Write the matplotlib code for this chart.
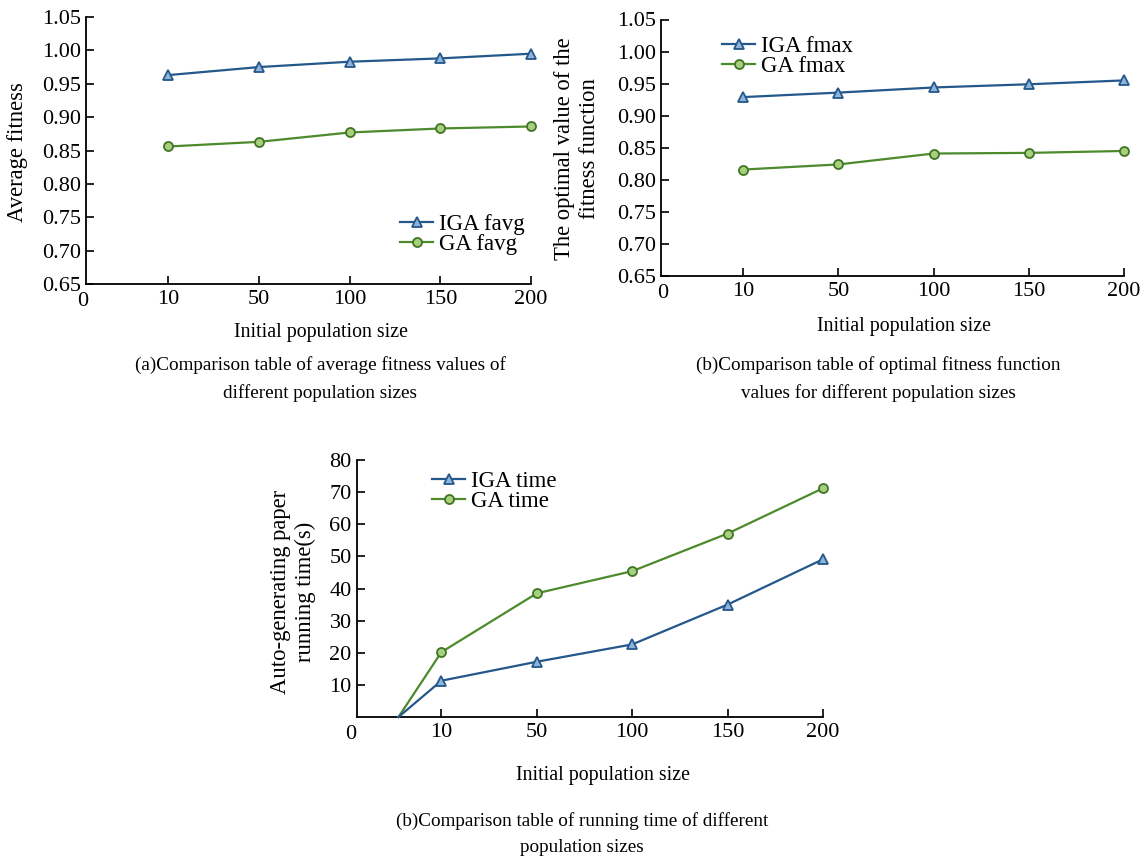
import matplotlib
matplotlib.use("Agg")
import matplotlib.pyplot as plt

plt.rcParams['font.family'] = ['Liberation Serif', 'DejaVu Serif']

# ---- data ----
x_labels = ["10", "50", "100", "150", "200"]
x_pos = [1, 2, 3, 4, 5]

iga_favg = [0.963, 0.975, 0.983, 0.988, 0.995]
ga_favg = [0.856, 0.863, 0.877, 0.883, 0.886]

iga_fmax = [0.929, 0.936, 0.944, 0.949, 0.955]
ga_fmax = [0.816, 0.824, 0.841, 0.842, 0.845]

x_time = [0.55, 1, 2, 3, 4, 5]
iga_time = [0, 11.3, 17.2, 22.6, 35.0, 49.1]
ga_time = [0, 20.2, 38.5, 45.4, 57.1, 71.2]

fit_ticks = [0.65, 0.70, 0.75, 0.80, 0.85, 0.90, 0.95, 1.00, 1.05]
time_ticks = [10, 20, 30, 40, 50, 60, 70, 80]

BLUE = '#24578a'
BLUE_FACE = '#8fb4dc'
GREEN = '#4c8a2c'
GREEN_FACE = '#a6cf7e'
TICK_FS = 16
LAB_FS = 16.3
XLAB_FS = 14.3
LEG_FS = 16.5
CAP_FS = 13.8

W, H = 1146, 861
fig = plt.figure(figsize=(W / 100, H / 100), dpi=100)


def make_axes(l, r, t, b):
    return fig.add_axes([l / W, 1 - b / H, (r - l) / W, (b - t) / H])


def style(ax, xmin, zero_x):
    for s in ['top', 'right']:
        ax.spines[s].set_visible(False)
    for s in ['left', 'bottom']:
        ax.spines[s].set_linewidth(1.3)
        ax.spines[s].set_color('black')
    ax.set_xlim(xmin, 5)
    ax.set_xticks(x_pos)
    ax.set_xticklabels(x_labels)
    ax.tick_params(direction='in', length=6, width=1.2, labelsize=TICK_FS)
    ax.tick_params(axis='x', pad=4.5)
    ax.tick_params(axis='y', pad=3.8)
    ax.annotate("0", xy=(zero_x, 0), xycoords=ax.get_xaxis_transform(),
                xytext=(0, -5.5), textcoords='offset points',
                ha='center', va='top', fontsize=TICK_FS)


def plot_pair(ax, x, y1, y2, lab1, lab2, mevery=None):
    kw1 = dict(color=BLUE, lw=1.6, marker='^', ms=6.5, mfc=BLUE_FACE, mec=BLUE, mew=1.3)
    kw2 = dict(color=GREEN, lw=1.6, marker='o', ms=6.5, mfc=GREEN_FACE, mec='#3f7524', mew=1.3)
    if mevery is not None:
        kw1['markevery'] = mevery
        kw2['markevery'] = mevery
    ax.plot(x, y2, label=lab2, clip_on=False, zorder=3, **kw2)
    ax.plot(x, y1, label=lab1, clip_on=False, zorder=4, **kw1)
    h, l = ax.get_legend_handles_labels()
    return [h[1], h[0]], [l[1], l[0]]


def add_legend(ax, h, l, x, y, spacing):
    ax.legend(h, l, loc='upper left', bbox_to_anchor=(x / W, 1 - y / H),
              bbox_transform=fig.transFigure, frameon=False, fontsize=LEG_FS,
              handlelength=1.45, handletextpad=0.25, labelspacing=spacing,
              borderpad=0, borderaxespad=0)


# ---- (a) ----
ax1 = make_axes(86, 531, 17, 284)
style(ax1, 0.09, 0.05)
h, l = plot_pair(ax1, x_pos, iga_favg, ga_favg, 'IGA favg', 'GA favg')
ax1.set_ylim(0.65, 1.05)
ax1.set_yticks(fit_ticks)
ax1.set_yticklabels([f"{v:.2f}" for v in fit_ticks])
ax1.set_ylabel("Average fitness", fontsize=LAB_FS)
ax1.yaxis.set_label_coords(-0.13, 0.494)
ax1.set_xlabel("Initial population size", fontsize=XLAB_FS)
ax1.xaxis.set_label_coords(0.528, -0.145)
add_legend(ax1, h, l, 400, 214, -0.03)

# ---- (b) ----
ax2 = make_axes(661, 1124, 19.5, 276)
style(ax2, 0.135, 0.15)
h, l = plot_pair(ax2, x_pos, iga_fmax, ga_fmax, 'IGA fmax', 'GA fmax')
ax2.set_ylim(0.65, 1.05)
ax2.set_yticks(fit_ticks)
ax2.set_yticklabels([f"{v:.2f}" for v in fit_ticks])
ax2.set_ylabel("The optimal value of the\nfitness function", fontsize=LAB_FS, linespacing=1.25)
ax2.yaxis.set_label_coords(-0.132, 0.495)
ax2.set_xlabel("Initial population size", fontsize=XLAB_FS)
ax2.xaxis.set_label_coords(0.525, -0.158)
add_legend(ax2, h, l, 722, 36, -0.06)

# ---- (c) ----
ax3 = make_axes(357, 823, 460, 717)
style(ax3, 0.115, 0.05)
h, l = plot_pair(ax3, x_time, iga_time, ga_time, 'IGA time', 'GA time',
                 mevery=slice(1, None))
ax3.set_ylim(0, 80)
ax3.set_yticks(time_ticks)
ax3.set_ylabel("Auto-generating paper\nrunning time(s)", fontsize=LAB_FS, linespacing=1.25)
ax3.yaxis.set_label_coords(-0.088, 0.486)
ax3.set_xlabel("Initial population size", fontsize=XLAB_FS)
ax3.xaxis.set_label_coords(0.527, -0.189)
add_legend(ax3, h, l, 432, 471, -0.06)

# ---- captions ----
fig.text(320 / W, 1 - 379 / H,
         "(a)Comparison table of average fitness values of\ndifferent population sizes",
         ha='center', va='center', fontsize=CAP_FS, linespacing=1.71)
fig.text(878 / W, 1 - 379 / H,
         "(b)Comparison table of optimal fitness function\nvalues for different population sizes",
         ha='center', va='center', fontsize=CAP_FS, linespacing=1.71)
fig.text(582 / W, 1 - 834 / H,
         "(b)Comparison table of running time of different\npopulation sizes",
         ha='center', va='center', fontsize=CAP_FS, linespacing=1.71)

fig.savefig("out.png", dpi=100)
